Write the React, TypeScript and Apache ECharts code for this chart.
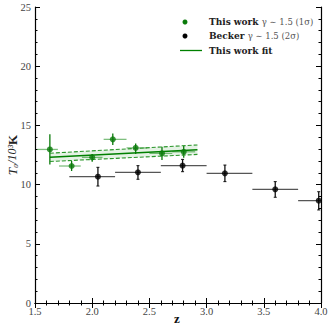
import React, { useEffect, useRef } from "react";
import * as echarts from "echarts";

// This work (green)
const greenZ = [1.63, 1.82, 2.0, 2.18, 2.38, 2.61, 2.8];
const greenT = [12.97, 11.57, 12.3, 13.82, 13.1, 12.64, 12.77];
const greenTLow = [11.7, 11.15, 11.93, 13.34, 12.58, 12.07, 12.27];
const greenTHigh = [14.26, 12.0, 12.58, 14.32, 13.48, 13.19, 13.25];
const greenZLow = [1.52, 1.71, 1.91, 2.1, 2.3, 2.5, 2.7];
const greenZHigh = [1.7, 1.9, 2.09, 2.3, 2.48, 2.7, 2.9];

// Becker (black)
const blackZ = [2.05, 2.4, 2.79, 3.16, 3.6, 3.98];
const blackT = [10.67, 11.04, 11.6, 10.95, 9.6, 8.64];
const blackTLow = [9.88, 10.45, 11.09, 10.25, 8.93, 7.86];
const blackTHigh = [11.46, 11.6, 12.13, 11.65, 10.25, 9.4];
const blackZLow = [1.8, 2.2, 2.6, 3.0, 3.4, 3.8];
const blackZHigh = [2.2, 2.6, 3.0, 3.4, 3.8, 4.2];

// Fit
const fitZ = [1.63, 2.92];
const fitT = [12.3, 12.95];
const fitUpper = [12.65, 13.35];
const fitLower = [11.95, 12.55];

const xTicks = { min: 1.5, max: 4.0, interval: 0.5 };
const yTicks = { min: 0, max: 25, interval: 5 };

const SERIF = "'Liberation Serif', 'DejaVu Serif', serif";
const WIDE_SERIF = "'DejaVu Serif', 'Liberation Serif', serif";

function errRows(z: number[], t: number[], zl: number[], zh: number[], tl: number[], th: number[]) {
  return z.map((v, i) => [v, t[i], zl[i], zh[i], tl[i], th[i]]);
}

function makeErr(hColor: string, vColor: string, cap: number) {
  return (params: any, api: any) => {
    const c = api.coord([api.value(0), api.value(1)]);
    const l = api.coord([api.value(2), api.value(1)]);
    const r = api.coord([api.value(3), api.value(1)]);
    const lo = api.coord([api.value(0), api.value(4)]);
    const hi = api.coord([api.value(0), api.value(5)]);
    const children: any[] = [
      { type: "line", shape: { x1: l[0], y1: c[1], x2: r[0], y2: c[1] }, style: { stroke: hColor, lineWidth: 1.3 } },
      { type: "line", shape: { x1: c[0], y1: lo[1], x2: c[0], y2: hi[1] }, style: { stroke: vColor, lineWidth: 1.3 } },
    ];
    if (cap > 0) {
      children.push({ type: "line", shape: { x1: c[0] - cap, y1: lo[1], x2: c[0] + cap, y2: lo[1] }, style: { stroke: vColor, lineWidth: 1 } });
      children.push({ type: "line", shape: { x1: c[0] - cap, y1: hi[1], x2: c[0] + cap, y2: hi[1] }, style: { stroke: vColor, lineWidth: 1 } });
    }
    return { type: "group", children };
  };
}

export default function App() {
  const ref = useRef<HTMLDivElement>(null);
  useEffect(() => {
    if (!ref.current) return;
    const chart = echarts.init(ref.current, null, { renderer: "svg" });
    const axisCommon = {
      axisLine: { show: true, lineStyle: { color: "#000", width: 1.2 } },
      axisTick: { show: true, inside: true, length: 5, lineStyle: { color: "#000" } },
      minorTick: { show: true, splitNumber: 5, length: 2.5, lineStyle: { color: "#000" } },
      splitLine: { show: false },
    };
    const legendRich = {
      a: { fontFamily: WIDE_SERIF, fontWeight: "bold", fontSize: 9, fill: "#222" },
      g: { fontFamily: WIDE_SERIF, fontSize: 8.5, fill: "#555" },
    };
    chart.setOption({
      animation: false,
      grid: { left: 35, top: 7, width: 286, height: 296, containLabel: false, outerBoundsMode: "none" },
      xAxis: [
        {
          type: "value", ...xTicks, position: "bottom", ...axisCommon,
          axisLabel: { color: "#444", fontFamily: SERIF, fontSize: 10.5, margin: 3, formatter: (v: number) => v.toFixed(1) },
        },
        { type: "value", ...xTicks, position: "top", ...axisCommon, axisLabel: { show: false } },
      ],
      yAxis: [
        {
          type: "value", ...yTicks, position: "left", ...axisCommon,
          axisLabel: { color: "#444", fontFamily: SERIF, fontSize: 10.5, margin: 4 },
        },
        { type: "value", ...yTicks, position: "right", ...axisCommon, axisLabel: { show: false } },
      ],
      series: [
        {
          type: "custom", clip: true, silent: true,
          renderItem: (params: any, api: any) => {
            if (params.dataIndex !== 0) return null;
            const pts: number[][] = [];
            fitZ.forEach((z, i) => pts.push(api.coord([z, fitUpper[i]])));
            for (let i = fitZ.length - 1; i >= 0; i--) pts.push(api.coord([fitZ[i], fitLower[i]]));
            return { type: "polygon", shape: { points: pts }, style: { fill: "rgba(0,128,0,0.1)" } };
          },
          data: fitZ.map((z, i) => [z, fitUpper[i], fitLower[i]]),
          encode: { x: 0, y: [1, 2] },
        },
        {
          type: "line", data: fitZ.map((z, i) => [z, fitUpper[i]]), symbol: "none",
          lineStyle: { color: "#2a962a", width: 1.1, type: [4, 2] },
        },
        {
          type: "line", data: fitZ.map((z, i) => [z, fitLower[i]]), symbol: "none",
          lineStyle: { color: "#2a962a", width: 1.1, type: [4, 2] },
        },
        {
          type: "line", data: fitZ.map((z, i) => [z, fitT[i]]), symbol: "none",
          lineStyle: { color: "#008000", width: 1.5 },
        },
        {
          type: "custom", clip: true,
          renderItem: makeErr("rgba(0,128,0,0.5)", "#0a7a0a", 0),
          data: errRows(greenZ, greenT, greenZLow, greenZHigh, greenTLow, greenTHigh),
          encode: { x: [0, 2, 3], y: [1, 4, 5] },
        },
        {
          type: "custom", clip: true,
          renderItem: makeErr("rgba(30,30,30,0.75)", "#111", 1.5),
          data: errRows(blackZ, blackT, blackZLow, blackZHigh, blackTLow, blackTHigh),
          encode: { x: [0, 2, 3], y: [1, 4, 5] },
        },
        {
          type: "scatter", data: greenZ.map((z, i) => [z, greenT[i]]), symbolSize: 6,
          itemStyle: { color: "#0a7a0a" }, z: 5,
        },
        {
          type: "scatter", data: blackZ.map((z, i) => [z, blackT[i]]), symbolSize: 6,
          itemStyle: { color: "#000" }, z: 5,
        },
      ],
      graphic: [
        {
          type: "text", x: 177, y: 318,
          style: { text: "z", align: "center", verticalAlign: "middle", fontFamily: SERIF, fontWeight: "bold", fontSize: 13, fill: "#111" },
        },
        {
          type: "text", x: 12, y: 155, rotation: Math.PI / 2,
          style: {
            text: "{it|T}{n|₀/10³}{b|K}", align: "center", verticalAlign: "middle",
            rich: {
              it: { fontFamily: SERIF, fontStyle: "italic", fontSize: 13, fill: "#222" },
              n: { fontFamily: SERIF, fontStyle: "italic", fontSize: 12, fill: "#222" },
              b: { fontFamily: SERIF, fontWeight: "bold", fontSize: 13, fill: "#222" },
            },
          },
        },
        { type: "circle", shape: { cx: 185, cy: 22, r: 2.5 }, style: { fill: "#0a7a0a" } },
        { type: "circle", shape: { cx: 185, cy: 36, r: 2.5 }, style: { fill: "#000" } },
        { type: "line", shape: { x1: 180, y1: 50.5, x2: 202, y2: 50.5 }, style: { stroke: "#008000", lineWidth: 1.3 } },
        {
          type: "text", x: 209, y: 22,
          style: { text: "{a|This work }{g|γ ∼ 1.5 (1σ)}", verticalAlign: "middle", rich: legendRich },
        },
        {
          type: "text", x: 209, y: 36,
          style: { text: "{a|Becker }{g|γ ∼ 1.5 (2σ)}", verticalAlign: "middle", rich: legendRich },
        },
        {
          type: "text", x: 209, y: 50.5,
          style: { text: "This work fit", verticalAlign: "middle", fontFamily: WIDE_SERIF, fontWeight: "bold", fontSize: 9, fill: "#222" },
        },
      ],
    });
    return () => chart.dispose();
  }, []);
  return <div ref={ref} style={{ width: 332, height: 327, position: "absolute", left: 0, top: 0 }} />;
}
